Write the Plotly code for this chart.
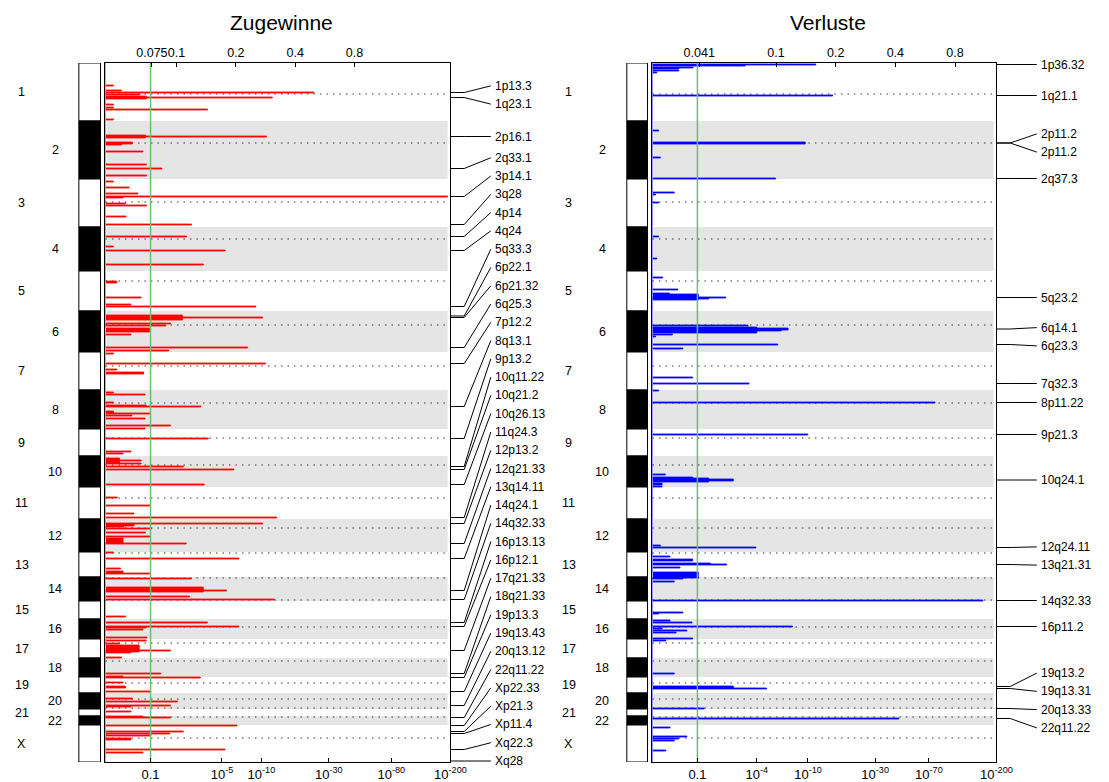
import numpy as np
import plotly.graph_objects as go

# ---------------- data ----------------
chrom_names = [str(i) for i in range(1, 23)] + ["X"]
# relative chromosome lengths (genome units, as drawn)
chrom_len = [58, 58, 48, 44, 40, 41, 38, 39, 27, 31, 32, 33, 25, 24, 18, 20, 19, 19, 16, 16, 7, 9, 37]
centromere_pos = [31, 80, 139, 176, 218, 262, 303, 340, 375, 402, 435, 465, 490, 515,
                  537, 564, 580, 598, 620, 636, 645, 654, 675]

# Gains (Zugewinne): regions with -log10(q)
gain_start = [22, 27, 29, 31, 33, 34, 35, 41, 44, 46, 56, 72, 73, 74, 79, 81, 88, 101, 105, 112,
              118, 124, 130, 133, 134, 140, 142, 153, 161, 173, 183, 187, 201, 218, 234, 241, 243,
              252, 254, 255, 260, 262, 265, 271, 284, 287, 290, 300, 306, 309, 329, 331, 339, 342,
              343, 348, 350, 352, 355, 362, 365, 375, 388, 390, 395, 397, 398, 400, 403, 406, 421,
              434, 442, 450, 454, 460, 461, 463, 465, 469, 473, 475, 480, 489, 495, 505, 508, 510,
              515, 524, 527, 528, 533, 536, 553, 559, 563, 564, 566, 574, 577, 580, 582, 587, 588,
              589, 594, 610, 613, 614, 619, 623, 628, 635, 638, 642, 643, 648, 653, 654, 662, 668,
              670, 672, 675, 676, 686, 689]
gain_end = [23, 28, 30, 32, 34, 35, 36, 42, 45, 47, 57, 73, 74, 75, 81, 82, 89, 102, 106, 113,
            119, 125, 131, 134, 135, 141, 143, 154, 162, 174, 184, 188, 202, 220, 235, 242, 244,
            254, 255, 257, 261, 263, 269, 272, 285, 288, 291, 301, 307, 311, 330, 332, 340, 343,
            344, 350, 351, 353, 356, 363, 366, 376, 389, 391, 397, 398, 400, 401, 404, 407, 422,
            435, 443, 451, 455, 461, 463, 464, 466, 470, 474, 480, 481, 490, 496, 506, 510, 511,
            516, 527, 528, 529, 534, 537, 554, 560, 564, 565, 567, 575, 578, 581, 587, 588, 589,
            590, 595, 611, 614, 615, 620, 625, 629, 636, 639, 643, 644, 649, 654, 655, 663, 669,
            671, 673, 676, 677, 687, 690]
gain_score = [0.13, 0.28, 23.7, 0.70, 0.87, 12.0, 0.87, 0.13, 0.13, 3.8, 0.13, 0.85, 10.9, 0.85,
              0.51, 0.28, 0.78, 0.88, 1.38, 0.88, 0.13, 0.44, 0.65, 191, 0.31, 0.36, 0.88, 0.37,
              2.75, 2.48, 0.13, 5.3, 3.5, 0.19, 0.73, 0.48, 9.1, 2.27, 10.2, 2.27, 1.72, 1.53, 0.98,
              0.48, 7.9, 1.65, 0.13, 10.7, 0.19, 0.8, 0.13, 0.84, 0.13, 0.87, 3.34, 0.13, 0.98, 0.5,
              0.84, 1.72, 0.84, 3.86, 0.48, 0.31, 0.24, 0.73, 0.24, 0.73, 2.31, 6.21, 3.57, 0.2,
              0.98, 0.55, 12.9, 10.2, 0.55, 0.33, 1.03, 0.85, 0.98, 0.31, 2.46, 0.13, 6.78, 0.26,
              0.31, 0.98, 2.75, 3.5, 5.44, 3.5, 2.64, 12.4, 0.36, 3.79, 6.78, 0.87, 0.78, 0.89, 0.87,
              0.24, 0.68, 1.72, 0.68, 0.48, 0.28, 1.34, 0.31, 3.3, 0.31, 0.36, 1.01, 0.51, 2.03,
              1.72, 0.48, 0.48, 0.78, 1.72, 6.55, 2.31, 1.69, 1.01, 0.48, 0.48, 5.28, 0.78]

gain_peak_name = ["1p13.3", "1q23.1", "2p16.1", "2q33.1", "3p14.1", "3q28", "4p14", "4q24",
                  "5q33.3", "6p22.1", "6p21.32", "6q25.3", "7p12.2", "8q13.1", "9p13.2",
                  "10q11.22", "10q21.2", "10q26.13", "11q24.3", "12p13.2", "12q21.33",
                  "13q14.11", "14q24.1", "14q32.33", "16p13.13", "16p12.1", "17q21.33",
                  "18q21.33", "19p13.3", "19q13.43", "20q13.12", "22q11.22", "Xp22.33",
                  "Xp21.3", "Xp11.4", "Xq22.3", "Xq28"]
gain_peak_pos = [29.5, 34.5, 73.5, 105.5, 133.5, 161.5, 173.5, 187.5, 243.5, 253, 254.5, 284.5,
                 300.5, 343.5, 375.5, 403.5, 406.5, 421.5, 454.5, 460.5, 480.5, 495.5, 527.5,
                 536.5, 559.5, 563.5, 587.5, 610.5, 614.5, 628.5, 642.5, 654.5, 662.5, 668.5,
                 670.5, 686.5, 698]

# Losses (Verluste)
loss_start = [1, 2, 4, 5, 7, 9, 32, 67, 79, 94, 115, 129, 131, 139, 173, 195, 214, 226, 230, 231,
              234, 235, 236, 262, 264, 265, 267, 268, 271, 273, 281, 285, 314, 320, 327, 339, 371,
              411, 414, 415, 416, 418, 420, 423, 482, 484, 493, 496, 500, 501, 504, 509, 515, 518,
              537, 549, 550, 557, 559, 563, 565, 567, 569, 575, 577, 610, 623, 625, 645, 655, 664,
              673, 675, 677, 687]
loss_end = [2, 3, 5, 6, 8, 10, 33, 68, 81, 95, 116, 130, 132, 140, 174, 196, 215, 227, 231, 234,
            235, 236, 237, 263, 265, 267, 268, 270, 272, 274, 282, 286, 315, 321, 328, 340, 372,
            412, 415, 416, 418, 419, 422, 424, 483, 485, 494, 498, 501, 502, 505, 515, 516, 519,
            538, 550, 551, 558, 560, 564, 566, 568, 570, 576, 578, 611, 625, 626, 646, 656, 665,
            674, 676, 678, 688]
loss_score = [11.4, 3.17, 0.87, 0.5, 0.5, 0.07, 15.1, 0.1, 9.54, 0.13, 5.68, 0.40, 0.05, 0.1,
              0.1, 0.07, 0.17, 0.48, 0.3, 1.03, 2.1, 1.38, 1.03, 3.37, 4.0, 7.1, 6.28, 4.0, 0.36,
              0.05, 5.9, 0.6, 0.86, 3.43, 0.1, 77, 9.97, 0.22, 0.86, 1.38, 2.48, 1.38, 0.16, 0.16,
              0.13, 3.93, 0.31, 0.86, 1.44, 2.14, 0.53, 1.03, 0.6, 0.4, 162, 0.6, 0.1, 0.31, 0.84,
              7.66, 0.16, 0.7, 0.44, 0.86, 0.23, 0.4, 2.48, 4.8, 1.22, 43.7, 0.31, 0.7, 0.5, 0.4,
              0.23]

loss_peak_name = ["1p36.32", "1q21.1", "2p11.2", "2p11.2", "2q37.3", "5q23.2", "6q14.1",
                  "6q23.3", "7q32.3", "8p11.22", "9p21.3", "10q24.1", "12q24.11", "13q21.31",
                  "14q32.33", "16p11.2", "19q13.2", "19q13.31", "20q13.33", "22q11.22"]
loss_peak_pos = [1.5, 32.5, 80, 80, 115.5, 234.5, 266, 281.5, 320.5, 339.5, 371.5, 417, 484.5,
                 501.5, 537.5, 563.5, 623.5, 625.5, 645.5, 655.5]

# axis ticks: q-value (as -log10 q) on bottom, G-score on top
gain_q_ticks = [1, 5, 10, 30, 80, 200]
gain_q_labels = ["0.1", "10<sup>-5</sup>", "10<sup>-10</sup>", "10<sup>-30</sup>",
                 "10<sup>-80</sup>", "10<sup>-200</sup>"]
gain_g_ticks = [0.075, 0.1, 0.2, 0.4, 0.8]
gain_g_labels = ["0.075", "0.1", "0.2", "0.4", "0.8"]
loss_q_ticks = [1, 4, 10, 30, 70, 200]
loss_q_labels = ["0.1", "10<sup>-4</sup>", "10<sup>-10</sup>", "10<sup>-30</sup>",
                 "10<sup>-70</sup>", "10<sup>-200</sup>"]
loss_g_ticks = [0.041, 0.1, 0.2, 0.4, 0.8]
loss_g_labels = ["0.041", "0.1", "0.2", "0.4", "0.8"]
q_threshold = 1.0  # -log10(0.1)
q_max = 200

# ---------------- helpers ----------------
W, H = 1109, 782
FONT = "Liberation Sans, Arial, Helvetica, sans-serif"
TOTAL = float(sum(chrom_len))
bounds = np.concatenate([[0], np.cumsum(chrom_len)])


def px(x):
    return x / W


def py(y):
    return 1 - y / H


def step_path(starts, ends, scores):
    xs, ys = [0.0], [0.0]
    for s, e, v in sorted(zip(starts, ends, scores)):
        ys += [s, e]
        xs += [v, 0.0]
    ys.append(TOTAL)
    xs.append(0.0)
    return 1 + np.array(xs), np.array(ys)


def spread_labels(desired, gap, lo, hi):
    def block_pos(ds):
        n = len(ds)
        p = np.mean([d - k * gap for k, d in enumerate(ds)])
        return min(max(p, lo), hi - (n - 1) * gap)

    blocks = []
    for d in desired:
        blocks.append([d])
        while len(blocks) > 1:
            prev, cur = blocks[-2], blocks[-1]
            if block_pos(prev) + len(prev) * gap > block_pos(cur) + 1e-9:
                blocks[-2:] = [prev + cur]
            else:
                break
    out = []
    for b in blocks:
        p = block_pos(b)
        out += [p + k * gap for k in range(len(b))]
    return out


fig = go.Figure()
shapes = []
annotations = []

panels = [
    dict(name="Zugewinne", color="#ff0000", starts=gain_start, ends=gain_end, scores=gain_score,
         peak_names=gain_peak_name, peak_pos=gain_peak_pos, q_ticks=gain_q_ticks,
         q_labels=gain_q_labels, g_ticks=gain_g_ticks, g_labels=gain_g_labels,
         g_range=[-1.3607, 0.3897], frame=(107, 457), ideo=(80, 102), lab_x=(22, 56),
         title_x=286, xa="x", ya="y", xg="x3"),
    dict(name="Verluste", color="#0000ff", starts=loss_start, ends=loss_end, scores=loss_score,
         peak_names=loss_peak_name, peak_pos=loss_peak_pos, q_ticks=loss_q_ticks,
         q_labels=loss_q_labels, g_ticks=loss_g_ticks, g_labels=loss_g_labels,
         g_range=[-1.6234, 0.1120], frame=(662, 1011), ideo=(636, 657), lab_x=(577, 611),
         title_x=840, xa="x2", ya="y2", xg="x4"),
]

layout_axes = {}
for p in panels:
    xa, ya, xg = p["xa"], p["ya"], p["xg"]
    xname = "xaxis" + xa[1:]
    yname = "yaxis" + ya[1:]
    gname = "xaxis" + xg[1:]

    # gray bands for even chromosomes, centromere dotted lines
    for i in range(len(chrom_len)):
        if i % 2 == 1:
            shapes.append(dict(type="rect", xref=xa + " domain", yref=ya, x0=0.003, x1=0.992,
                               y0=bounds[i], y1=bounds[i + 1], fillcolor="#e5e5e5",
                               line=dict(width=0), layer="below"))
    for c in centromere_pos:
        shapes.append(dict(type="line", xref=xa + " domain", yref=ya, x0=0, x1=1, y0=c, y1=c,
                           line=dict(color="#333333", width=1, dash="1.5px,5px"), layer="below"))

    # ideogram
    for i in range(len(chrom_len)):
        shapes.append(dict(type="rect", xref="paper", yref=ya, x0=px(p["ideo"][0]),
                           x1=px(p["ideo"][1]), y0=bounds[i], y1=bounds[i + 1],
                           fillcolor="black" if i % 2 == 1 else "white",
                           line=dict(color="black", width=1), layer="above"))
        annotations.append(dict(xref="paper", yref=ya, x=px(p["lab_x"][i % 2]),
                                y=(bounds[i] + bounds[i + 1]) / 2, text=chrom_names[i],
                                showarrow=False, xanchor="center", yanchor="middle",
                                font=dict(family=FONT, size=12.5, color="black")))

    # step line of -log10(q)
    xs, ys = step_path(p["starts"], p["ends"], p["scores"])
    fig.add_trace(go.Scatter(x=xs, y=ys, xaxis=xa, yaxis=ya, mode="lines",
                             line=dict(color=p["color"], width=0.8, shape="vh"),
                             fill="toself", fillcolor=p["color"],
                             hoverinfo="skip", showlegend=False))
    # threshold line q = 0.1
    fig.add_trace(go.Scatter(x=[1 + q_threshold, 1 + q_threshold], y=[0, TOTAL], xaxis=xa,
                             yaxis=ya, mode="lines", line=dict(color="#6cc06c", width=1.5),
                             hoverinfo="skip", showlegend=False))
    # carrier for top G-score axis
    fig.add_trace(go.Scatter(x=p["g_ticks"], y=[None] * len(p["g_ticks"]), xaxis=xg, yaxis=ya,
                             mode="markers", hoverinfo="skip", showlegend=False))

    # peak labels with leader lines
    label_y = spread_labels(p["peak_pos"], 18.28, 0, TOTAL - 1)
    fr = p["frame"][1]
    for name, pk, ly in zip(p["peak_names"], p["peak_pos"], label_y):
        shapes.append(dict(type="line", xref="paper", yref=ya, x0=px(fr), x1=px(fr + 14),
                           y0=pk, y1=pk, line=dict(color="black", width=1)))
        shapes.append(dict(type="line", xref="paper", yref=ya, x0=px(fr + 14), x1=px(fr + 41),
                           y0=pk, y1=ly, line=dict(color="black", width=1)))
        annotations.append(dict(xref="paper", yref=ya, x=px(fr + 43), y=ly, text=name,
                                showarrow=False, xanchor="left", yanchor="middle",
                                font=dict(family=FONT, size=12, color="black")))

    annotations.append(dict(xref="paper", yref="paper", x=px(p["title_x"]), y=py(22),
                            text=p["name"], showarrow=False, xanchor="center",
                            yanchor="middle", font=dict(family=FONT, size=21, color="black")))

    dom_x = [px(p["frame"][0]), px(p["frame"][1])]
    layout_axes[xname] = dict(domain=dom_x, anchor=ya, type="log",
                              range=[0, np.log10(1 + q_max)],
                              tickvals=[1 + v for v in p["q_ticks"]], ticktext=p["q_labels"],
                              ticks="inside", ticklen=4, tickcolor="black", tickangle=0,
                              showline=True, linecolor="black", linewidth=1, mirror=True,
                              showgrid=False, zeroline=False,
                              tickfont=dict(family=FONT, size=13, color="black"))
    layout_axes[gname] = dict(overlaying=xa, anchor=ya, side="top", type="log",
                              range=p["g_range"], tickvals=p["g_ticks"], ticktext=p["g_labels"],
                              ticks="inside", ticklen=4, tickcolor="black", tickangle=0,
                              showline=True, linecolor="black", linewidth=1,
                              showgrid=False, zeroline=False,
                              tickfont=dict(family=FONT, size=12.5, color="black"))
    layout_axes[yname] = dict(domain=[py(762), py(63)], anchor=xa, range=[TOTAL, 0],
                              showticklabels=False, ticks="", showline=True, linecolor="black",
                              linewidth=1, mirror=True, showgrid=False, zeroline=False)

fig.update_layout(width=W, height=H, margin=dict(l=0, r=0, t=0, b=0),
                  paper_bgcolor="white", plot_bgcolor="white", showlegend=False,
                  shapes=shapes, annotations=annotations, **layout_axes)

fig.write_html("out.html")
